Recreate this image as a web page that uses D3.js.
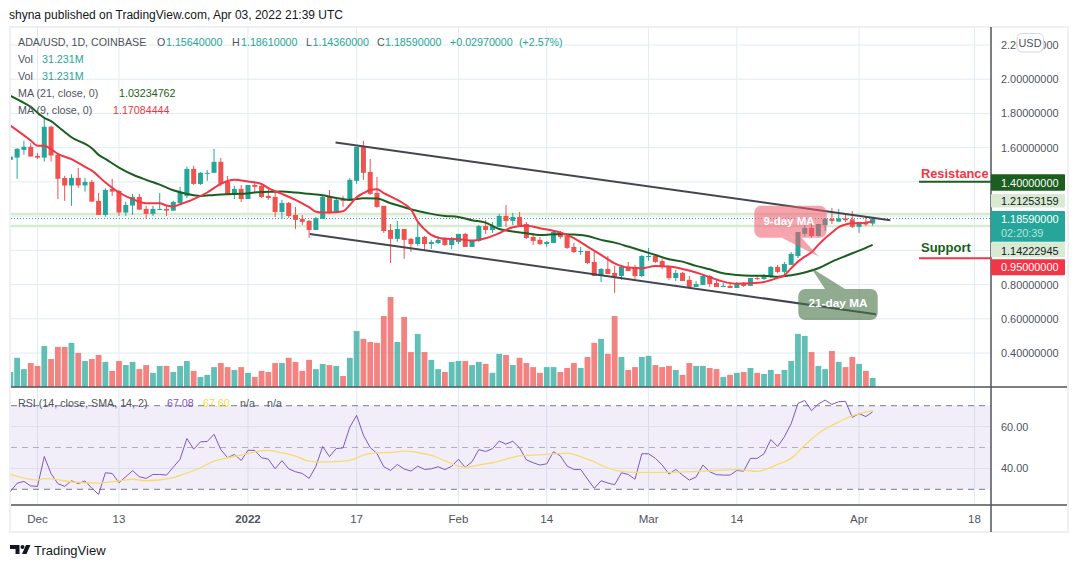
<!DOCTYPE html>
<html>
<head>
<meta charset="utf-8">
<script src="https://cdn.jsdelivr.net/npm/d3@7"></script>
<style>
  html, body { margin: 0; padding: 0; background: #fff; }
  svg { display: block; }
  text { font-family: "Liberation Sans", Arial, sans-serif; dominant-baseline: central; }
</style>
</head>
<body>
<svg id="chart" width="1079" height="568"></svg>
<script>
// first candle is Nov 27 2021, one candle per day
const firstDay = new Date(Date.UTC(2021, 10, 27))

const opens = [
  1.529,1.542,1.587,1.605,1.552,1.542,1.722,1.558,1.423,1.379,
  1.423,1.379,1.400,1.289,1.207,1.359,1.347,1.221,1.262,1.312,
  1.242,1.213,1.236,1.242,1.232,1.277,1.318,1.476,1.388,1.447,
  1.453,1.517,1.400,1.324,1.359,1.300,1.382,1.377,1.318,1.312,
  1.224,1.277,1.207,1.184,1.172,1.119,1.184,1.312,1.224,1.295,
  1.289,1.406,1.605,1.458,1.336,1.260,1.119,1.067,1.125,1.067,
  1.037,1.078,1.037,1.043,1.067,1.031,1.049,1.096,1.020,1.055,
  1.142,1.119,1.137,1.201,1.172,1.195,1.154,1.078,1.061,1.037,
  1.043,1.107,1.084,1.020,0.990,0.996,0.932,0.850,0.891,0.868,
  0.850,0.903,0.897,0.850,0.961,0.967,0.938,0.903,0.838,0.868,
  0.827,0.786,0.798,0.850,0.809,0.786,0.792,0.780,0.809,0.792,
  0.838,0.833,0.844,0.903,0.874,0.915,0.967,1.096,1.131,1.084,
  1.148,1.184,1.168,1.187,1.181,1.137,1.166,1.1564
]
const highs = [
  1.587,1.597,1.640,1.626,1.568,1.774,1.728,1.568,1.435,1.445,
  1.482,1.423,1.412,1.336,1.363,1.418,1.353,1.283,1.330,1.330,
  1.260,1.260,1.336,1.260,1.289,1.371,1.488,1.494,1.458,1.470,
  1.593,1.540,1.435,1.377,1.382,1.382,1.400,1.382,1.359,1.353,
  1.295,1.283,1.254,1.207,1.178,1.195,1.318,1.353,1.306,1.318,
  1.423,1.605,1.640,1.534,1.429,1.260,1.154,1.172,1.125,1.072,
  1.160,1.084,1.061,1.084,1.078,1.078,1.096,1.102,1.061,1.148,
  1.178,1.166,1.213,1.265,1.219,1.224,1.166,1.102,1.078,1.055,
  1.113,1.113,1.096,1.043,1.020,0.996,0.990,0.897,0.967,0.909,
  0.909,0.932,0.915,0.973,1.014,0.979,0.950,0.909,0.885,0.874,
  0.850,0.821,0.856,0.856,0.833,0.809,0.809,0.815,0.815,0.838,
  0.856,0.862,0.909,0.915,0.932,0.990,1.107,1.186,1.186,1.154,
  1.189,1.248,1.242,1.213,1.230,1.166,1.195,1.1861
]
const lows = [
  1.529,1.418,1.558,1.548,1.534,1.519,1.519,1.300,1.289,1.260,
  1.365,1.343,1.285,1.207,1.197,1.318,1.201,1.201,1.207,1.238,
  1.184,1.201,1.236,1.201,1.232,1.277,1.306,1.382,1.382,1.406,
  1.453,1.377,1.324,1.300,1.283,1.300,1.341,1.306,1.295,1.195,
  1.184,1.189,1.125,1.148,1.072,1.119,1.184,1.213,1.219,1.254,
  1.289,1.388,1.412,1.324,1.248,1.102,0.926,1.049,0.950,0.990,
  1.026,1.002,1.008,1.037,1.026,1.008,1.037,1.020,1.020,1.049,
  1.096,1.102,1.137,1.137,1.148,1.142,1.067,1.031,1.031,1.020,
  1.043,1.067,1.008,0.984,0.973,0.920,0.850,0.815,0.862,0.751,
  0.827,0.879,0.833,0.844,0.938,0.926,0.891,0.827,0.821,0.821,
  0.786,0.786,0.798,0.786,0.786,0.786,0.780,0.780,0.786,0.792,
  0.827,0.827,0.838,0.868,0.862,0.915,0.955,1.080,1.072,1.080,
  1.113,1.154,1.166,1.166,1.131,1.102,1.142,1.1436
]
const closes = [
  1.548,1.593,1.605,1.548,1.542,1.722,1.554,1.418,1.379,1.423,
  1.379,1.400,1.285,1.207,1.353,1.343,1.221,1.265,1.312,1.238,
  1.213,1.242,1.242,1.232,1.283,1.336,1.476,1.388,1.453,1.453,
  1.517,1.388,1.324,1.359,1.300,1.382,1.371,1.312,1.306,1.224,
  1.277,1.201,1.178,1.166,1.119,1.189,1.312,1.224,1.295,1.289,
  1.412,1.605,1.453,1.330,1.254,1.113,1.067,1.125,1.061,1.037,
  1.078,1.037,1.049,1.061,1.031,1.061,1.096,1.020,1.061,1.142,
  1.119,1.142,1.201,1.172,1.195,1.148,1.072,1.055,1.037,1.049,
  1.107,1.078,1.014,0.990,0.996,0.926,0.850,0.891,0.862,0.846,
  0.903,0.879,0.850,0.967,0.967,0.932,0.903,0.838,0.868,0.821,
  0.786,0.803,0.850,0.803,0.786,0.792,0.780,0.809,0.792,0.838,
  0.833,0.850,0.903,0.874,0.920,0.979,1.107,1.131,1.084,1.154,
  1.184,1.172,1.187,1.176,1.137,1.166,1.151,1.1859
]
// volume in millions
const volumes = [
  52,101,62,83,73,142,97,139,139,153,
  118,90,97,111,87,56,90,76,87,62,
  76,49,73,73,52,73,90,56,35,42,
  69,83,69,59,69,49,35,56,52,83,
  83,101,87,56,94,62,80,76,73,38,
  101,194,167,156,153,246,312,156,243,121,
  184,121,94,62,52,87,90,90,76,87,
  80,49,115,111,76,101,83,69,49,69,
  69,52,66,83,66,104,153,167,115,246,
  104,59,69,104,108,76,69,73,59,42,
  83,73,73,66,62,35,42,49,52,66,
  49,45,59,45,59,90,184,177,121,73,
  62,125,87,69,104,80,56,31.231
]
const rsiValues = [
  28.9,32.9,33.8,31.6,31.4,45.7,37.5,32.7,31.4,34.1,
  32.7,34,30.5,27.6,37.9,37.6,33.2,36,38.9,36,
  35.2,37.1,37.1,36.8,40.6,44.4,54.3,49.2,52.7,52.9,
  56.3,49,45.1,46.7,43.8,48.7,48.6,45.1,44.4,39.8,
  43.7,39.8,38.4,37.6,35.2,41,50.5,45.6,49.5,49.8,
  59.8,65.4,55.9,50,47.1,40.8,39,41.9,39.7,38.7,
  41.1,39.5,39.8,40.8,39.4,41,44.4,40.5,43.2,49,
  48.1,49.4,53.1,51.6,53,49.8,44.1,42.7,41.6,42.2,
  48,46,41.1,39.5,39.5,34.9,30.5,34.1,33,32.2,
  37.9,37.1,34.8,47,47,44.8,41.6,37.3,39.5,36.8,
  34.4,35.9,41.6,38.4,37,36.8,36.8,39,38.7,44.8,
  44.8,47,53.8,50.5,55.1,61.4,71.1,72.5,67.6,70.8,
  72.7,70.6,71.9,72.1,64.4,66.2,64.8,67.08
]

// moving averages, read at these days (counted from Dec 1)
const ma9Days = [-4,-1,0,1,2,3,5,7,8,10,12,14,16,18,19,20,21,23,25,27,29,31,33,34,36,38,39,40,41,42,44,45,46,47,48,49,50,51,53,54,55,56,57,58,60,62,64,66,68,70,72,74,77,79,81,83,85,87,89,91,93,95,97,99,101,103,105,107,109,110,111,112,113,114,115,116,117,118,119,120,121,122,123]
const ma9Values = [1.729,1.642,1.611,1.611,1.591,1.564,1.533,1.488,1.466,1.396,1.338,1.299,1.275,1.275,1.262,1.256,1.269,1.299,1.338,1.388,1.412,1.402,1.388,1.363,1.330,1.295,1.275,1.252,1.226,1.221,1.223,1.228,1.265,1.310,1.334,1.353,1.357,1.334,1.295,1.271,1.240,1.168,1.123,1.090,1.067,1.065,1.057,1.071,1.100,1.135,1.143,1.129,1.104,1.071,1.022,0.973,0.924,0.899,0.895,0.909,0.905,0.891,0.870,0.843,0.817,0.805,0.807,0.815,0.839,0.854,0.895,0.934,0.963,0.989,1.032,1.071,1.104,1.135,1.151,1.158,1.158,1.162,1.17084]
const ma21Days = [-4,-2,-1,0,1,2,3,4,5,7,8,9,10,12,14,16,18,20,22,24,26,28,30,32,34,36,38,40,42,44,46,48,50,52,54,56,58,60,62,64,66,68,70,72,74,77,79,81,83,85,87,89,91,93,95,97,99,101,103,105,107,109,111,113,115,117,119,121,123]
const ma21Values = [1.903,1.862,1.839,1.804,1.774,1.755,1.724,1.692,1.661,1.622,1.597,1.558,1.534,1.484,1.443,1.412,1.384,1.351,1.330,1.318,1.324,1.328,1.330,1.338,1.342,1.344,1.338,1.330,1.322,1.306,1.295,1.304,1.303,1.275,1.252,1.230,1.213,1.201,1.195,1.176,1.162,1.125,1.110,1.100,1.090,1.096,1.092,1.084,1.061,1.045,1.022,0.998,0.973,0.948,0.934,0.909,0.889,0.866,0.856,0.852,0.852,0.846,0.854,0.870,0.895,0.934,0.967,0.998,1.03235]
const rsiSmaDays = [-4,0,1,3,5,9,12,14,16,20,22,24,26,28,30,32,34,36,38,40,42,44,46,48,50,52,54,56,58,60,62,63,65,67,68,71,75,78,81,85,88,93,98,103,106,109,111,113,115,118,120,123]
const rsiSmaValues = [37.1,34.4,35.1,34.6,33.5,33,34,34.8,34.1,35.6,37.8,40.3,43.5,45.1,46.3,47.9,48.6,47.5,45.9,43.5,43,43.3,43.8,46.3,47.5,47.6,48.3,47.6,46.2,43.7,41.1,40.6,41.6,42.7,43.5,46,46.7,47.3,44.4,39.2,38.1,38.1,38.7,39.4,38.6,41.9,44.8,51.1,56.7,62.2,65.1,67.6]

const priceTicks = [2.2, 2.0, 1.8, 1.6, 0.8, 0.6, 0.4]
const priceGrid = [2.2, 2.0, 1.8, 1.6, 1.4, 1.2, 1.0, 0.8, 0.6, 0.4]
const rsiTicks = [60, 40]
const timeTicks = [
  { day: 4, label: "Dec" },
  { day: 16, label: "13" },
  { day: 35, label: "2022", bold: true },
  { day: 51, label: "17" },
  { day: 66, label: "Feb" },
  { day: 79, label: "14" },
  { day: 94, label: "Mar" },
  { day: 107, label: "14" },
  { day: 125, label: "Apr" },
  { day: 142, label: "18" },
]
// drawn trend channel, [days from Dec 1, price]
const channelTop = [[43.9, 1.630], [125.6, 1.176]]
const channelBottom = [[40.1, 1.096], [123.5, 0.626]]
const bandPrices = [1.21253159, 1.14222945]

const teal = "#26a69a"
const red = "#ef5350"
const darkGreen = "#1b5e20"
const alarmRed = "#f23645"
const gridColor = "#e1ecf2"
const axisColor = "#50535e"
const paneRight = 991
const msPerDay = 86400000

const svg = d3.select("#chart")

const x = d3.scaleUtc().domain([new Date(Date.UTC(2021, 11, 1)), new Date(Date.UTC(2022, 3, 18))]).range([37.5, 974.5])
const dayX = (i) => x(new Date(+firstDay + i * msPerDay))
const fromDec1 = (d) => dayX(d + 4)
const y = d3.scaleLinear().domain([0.4, 2.2]).range([353, 45])
const yVol = d3.scaleLinear().domain([0, 312]).range([387, 297])
const yRsi = d3.scaleLinear().domain([30, 70]).range([489.3, 405.7])

svg.append("rect").attr("x", 10).attr("y", 27).attr("width", 1058).attr("height", 505)
  .attr("fill", "#fff").attr("stroke", "#eef0f4").attr("stroke-width", 2)

svg.append("defs").append("clipPath").attr("id", "pane")
  .append("rect").attr("x", 11).attr("y", 27).attr("width", paneRight - 11).attr("height", 360)

// grid
const grid = svg.append("g").attr("stroke", gridColor)
grid.selectAll(".v").data(timeTicks).join("line")
  .attr("x1", (d) => dayX(d.day)).attr("x2", (d) => dayX(d.day))
  .attr("y1", 27).attr("y2", 505)
priceGrid.forEach((p) => {
  grid.append("line").attr("x1", 11).attr("x2", paneRight).attr("y1", y(p)).attr("y2", y(p))
})

// rsi pane background
svg.append("rect").attr("x", 11).attr("width", paneRight - 11)
  .attr("y", yRsi(70)).attr("height", yRsi(30) - yRsi(70)).attr("fill", "rgba(126,87,194,0.1)")
rsiTicks.forEach((t) => {
  svg.append("line").attr("x1", 11).attr("x2", paneRight).attr("y1", yRsi(t)).attr("y2", yRsi(t))
    .attr("stroke", "#dcdfea").attr("stroke-width", 1)
})
;[70, 50, 30].forEach((t) => {
  svg.append("line").attr("x1", 11).attr("x2", paneRight).attr("y1", yRsi(t)).attr("y2", yRsi(t))
    .attr("stroke", t === 50 ? "#b4acc4" : "#787b86").attr("stroke-dasharray", "6,5")
})

const main = svg.append("g").attr("clip-path", "url(#pane)")

// support / resistance band
bandPrices.forEach((p) => {
  main.append("line").attr("x1", 11).attr("x2", paneRight).attr("y1", y(p)).attr("y2", y(p))
    .attr("stroke", "#d9ead3").attr("stroke-width", 2.5)
})

const candles = opens.map((o, i) => ({ i, o, h: highs[i], l: lows[i], c: closes[i], v: volumes[i] }))
const candleColor = (d) => (d.c >= d.o ? teal : red)

// volume
main.append("g").selectAll("rect").data(candles).join("rect")
  .attr("x", (d) => dayX(d.i) - 2.9).attr("width", 5.8)
  .attr("y", (d) => yVol(d.v)).attr("height", (d) => yVol(0) - yVol(d.v))
  .attr("fill", candleColor).attr("opacity", 0.72)

// last price line
main.append("line").attr("x1", 11).attr("x2", paneRight).attr("y1", y(1.1859)).attr("y2", y(1.1859))
  .attr("stroke", teal).attr("stroke-dasharray", "1,2")

// candles
const candleG = main.append("g").selectAll("g").data(candles).join("g")
candleG.append("line")
  .attr("x1", (d) => dayX(d.i)).attr("x2", (d) => dayX(d.i))
  .attr("y1", (d) => y(d.h)).attr("y2", (d) => y(d.l))
  .attr("stroke", candleColor)
candleG.append("rect")
  .attr("x", (d) => dayX(d.i) - 2.5).attr("width", 5)
  .attr("y", (d) => y(Math.max(d.o, d.c)))
  .attr("height", (d) => Math.max(1, Math.abs(y(d.o) - y(d.c))))
  .attr("fill", candleColor)

// moving averages
const maLine = (days, values) =>
  d3.line().x((d) => fromDec1(d)).y((d, i) => y(values[i])).curve(d3.curveMonotoneX)(days)
main.append("path").attr("d", maLine(ma21Days, ma21Values)).attr("fill", "none").attr("stroke", darkGreen).attr("stroke-width", 2)
main.append("path").attr("d", maLine(ma9Days, ma9Values)).attr("fill", "none").attr("stroke", alarmRed).attr("stroke-width", 2)

// channel
;[channelTop, channelBottom].forEach((c) => {
  main.append("line")
    .attr("x1", fromDec1(c[0][0])).attr("y1", y(c[0][1]))
    .attr("x2", fromDec1(c[1][0])).attr("y2", y(c[1][1]))
    .attr("stroke", "#434651").attr("stroke-width", 2)
})

// rsi lines
const rsiLine = d3.line().x((d, i) => dayX(i)).y((d) => yRsi(d))
svg.append("g").append("path").datum(rsiValues).attr("d", rsiLine)
  .attr("fill", "none").attr("stroke", "#7e57c2").attr("stroke-width", 1)
svg.append("path")
  .attr("d", d3.line().x((d) => fromDec1(d)).y((d, i) => yRsi(rsiSmaValues[i])).curve(d3.curveMonotoneX)(rsiSmaDays))
  .attr("fill", "none").attr("stroke", "#f5dc6f").attr("stroke-width", 1.3)

// callouts
function callout(box, tail, fill, label, lx, ly, size) {
  const g = svg.append("g")
  g.append("path")
    .attr("d", `M${tail[0][0]},${tail[0][1]}L${tail[1][0]},${tail[1][1]}L${tail[2][0]},${tail[2][1]}Z`)
    .attr("fill", fill)
  g.append("rect").attr("x", box[0]).attr("y", box[1]).attr("width", box[2] - box[0]).attr("height", box[3] - box[1])
    .attr("rx", 7).attr("fill", fill)
  g.append("text").attr("x", lx).attr("y", ly).attr("text-anchor", "middle")
    .attr("fill", "#fff").attr("font-size", size).attr("font-weight", "bold").text(label)
}
callout([754.3, 205.7, 826.7, 237.7], [[781.7, 237.7], [819, 256.7], [801.7, 237.7]], "rgba(242,90,110,0.55)", "9-day MA", 789, 221, 11.5)
callout([798.3, 289, 877.7, 320], [[825, 289], [811, 267.7], [845, 289]], "rgba(70,115,70,0.6)", "21-day MA", 838, 303, 11.8)

// pane separators and axes
svg.append("line").attr("x1", 11).attr("x2", 1067).attr("y1", 387).attr("y2", 387).attr("stroke", axisColor).attr("stroke-width", 1.5)
svg.append("line").attr("x1", 11).attr("x2", 1067).attr("y1", 505).attr("y2", 505).attr("stroke", axisColor).attr("stroke-width", 1.5)
svg.append("line").attr("x1", paneRight).attr("x2", paneRight).attr("y1", 27).attr("y2", 532).attr("stroke", axisColor).attr("stroke-width", 1.5)

const axisText = { size: 10.9, x: 1001 }
priceTicks.forEach((p) => {
  svg.append("text").attr("x", axisText.x).attr("y", y(p)).attr("font-size", axisText.size)
    .attr("fill", axisColor).text(p.toFixed(8))
})
rsiTicks.forEach((t) => {
  svg.append("text").attr("x", axisText.x).attr("y", yRsi(t)).attr("font-size", axisText.size)
    .attr("fill", axisColor).text(t.toFixed(2))
})
timeTicks.forEach((t) => {
  svg.append("text").attr("x", dayX(t.day)).attr("y", 519).attr("font-size", 11.5).attr("text-anchor", "middle")
    .attr("font-weight", t.bold ? "bold" : "normal").attr("fill", axisColor).text(t.label)
})

// price labels on the axis
function axisBox(top, bottom, fill, rows) {
  svg.append("rect").attr("x", paneRight).attr("y", top).attr("width", 1065 - paneRight).attr("height", bottom - top)
    .attr("rx", 1).attr("fill", fill)
  rows.forEach((r) => {
    svg.append("text").attr("x", axisText.x).attr("y", r.y).attr("font-size", axisText.size)
      .attr("fill", r.color).text(r.text)
  })
}
axisBox(174.3, 190.7, darkGreen, [{ y: 182.5, text: "1.40000000", color: "#fff" }])
axisBox(194, 207.5, "#d9ead3", [{ y: 201, text: "1.21253159", color: "#131722" }])
axisBox(211, 241.7, teal, [{ y: 219, text: "1.18590000", color: "#fff" }, { y: 233, text: "02:20:39", color: "#b5e3dd" }])
axisBox(242.3, 257.3, "#d9ead3", [{ y: 250.5, text: "1.14222945", color: "#131722" }])
axisBox(259.3, 275.3, alarmRed, [{ y: 267.3, text: "0.95000000", color: "#fff" }])

// resistance / support tags
svg.append("line").attr("x1", 919).attr("x2", paneRight).attr("y1", 181.7).attr("y2", 181.7).attr("stroke", darkGreen).attr("stroke-width", 2)
svg.append("line").attr("x1", 919).attr("x2", paneRight).attr("y1", 258.3).attr("y2", 258.3).attr("stroke", alarmRed).attr("stroke-width", 2)
svg.append("text").attr("x", 921).attr("y", 173).attr("font-size", 12.8).attr("font-weight", "bold").attr("fill", alarmRed).text("Resistance")
svg.append("text").attr("x", 921).attr("y", 247).attr("font-size", 13).attr("font-weight", "bold").attr("fill", darkGreen).text("Support")

// USD button
svg.append("rect").attr("x", 1017).attr("y", 33.5).attr("width", 26.5).attr("height", 18.5).attr("rx", 5)
  .attr("fill", "#fff").attr("stroke", "#d6d8e0")
svg.append("text").attr("x", 1030).attr("y", 43).attr("text-anchor", "middle").attr("font-size", 10.9).attr("fill", axisColor).text("USD")

// legend
function legend(xPos, yPos, text, color) {
  svg.append("text").attr("x", xPos).attr("y", yPos).attr("font-size", 10.7).attr("fill", color).text(text)
}
const legendGrey = "#50535e"
legend(18, 41.7, "ADA/USD, 1D, COINBASE", legendGrey)
legend(157, 41.7, "O", legendGrey)
legend(166, 41.7, "1.15640000", teal)
legend(232, 41.7, "H", legendGrey)
legend(241, 41.7, "1.18610000", teal)
legend(306, 41.7, "L", legendGrey)
legend(312.5, 41.7, "1.14360000", teal)
legend(377, 41.7, "C", legendGrey)
legend(385, 41.7, "1.18590000", teal)
legend(450, 41.7, "+0.02970000", teal)
legend(519, 41.7, "(+2.57%)", teal)
legend(18, 59, "Vol", legendGrey)
legend(42, 59, "31.231M", teal)
legend(18, 76, "Vol", legendGrey)
legend(42, 76, "31.231M", teal)
legend(18, 93, "MA (21, close, 0)", legendGrey)
legend(119, 93, "1.03234762", darkGreen)
legend(18, 110, "MA (9, close, 0)", legendGrey)
legend(113, 110, "1.17084444", alarmRed)
legend(18, 403, "RSI (14, close, SMA, 14, 2)", legendGrey)
legend(167, 403, "67.08", "#7e57c2")
legend(203, 403, "67.60", "#f5dc3c")
legend(240, 403, "n/a", legendGrey)
legend(267, 403, "n/a", legendGrey)

// header and footer
svg.append("text").attr("x", 9).attr("y", 15).attr("font-size", 12).attr("fill", "#131722")
  .text("shyna published on TradingView.com, Apr 03, 2022 21:39 UTC")
svg.append("path").attr("d", "M10,545h9.5v9h-4v-5h-5.500zM26,545h4.500l-4,9h-4.500z").attr("fill", "#131722")
svg.append("circle").attr("cx", 22.5).attr("cy", 547).attr("r", 2).attr("fill", "#131722")
svg.append("text").attr("x", 34).attr("y", 550.500).attr("font-size", 13).attr("fill", "#131722").text("TradingView")
</script>
</body>
</html>
